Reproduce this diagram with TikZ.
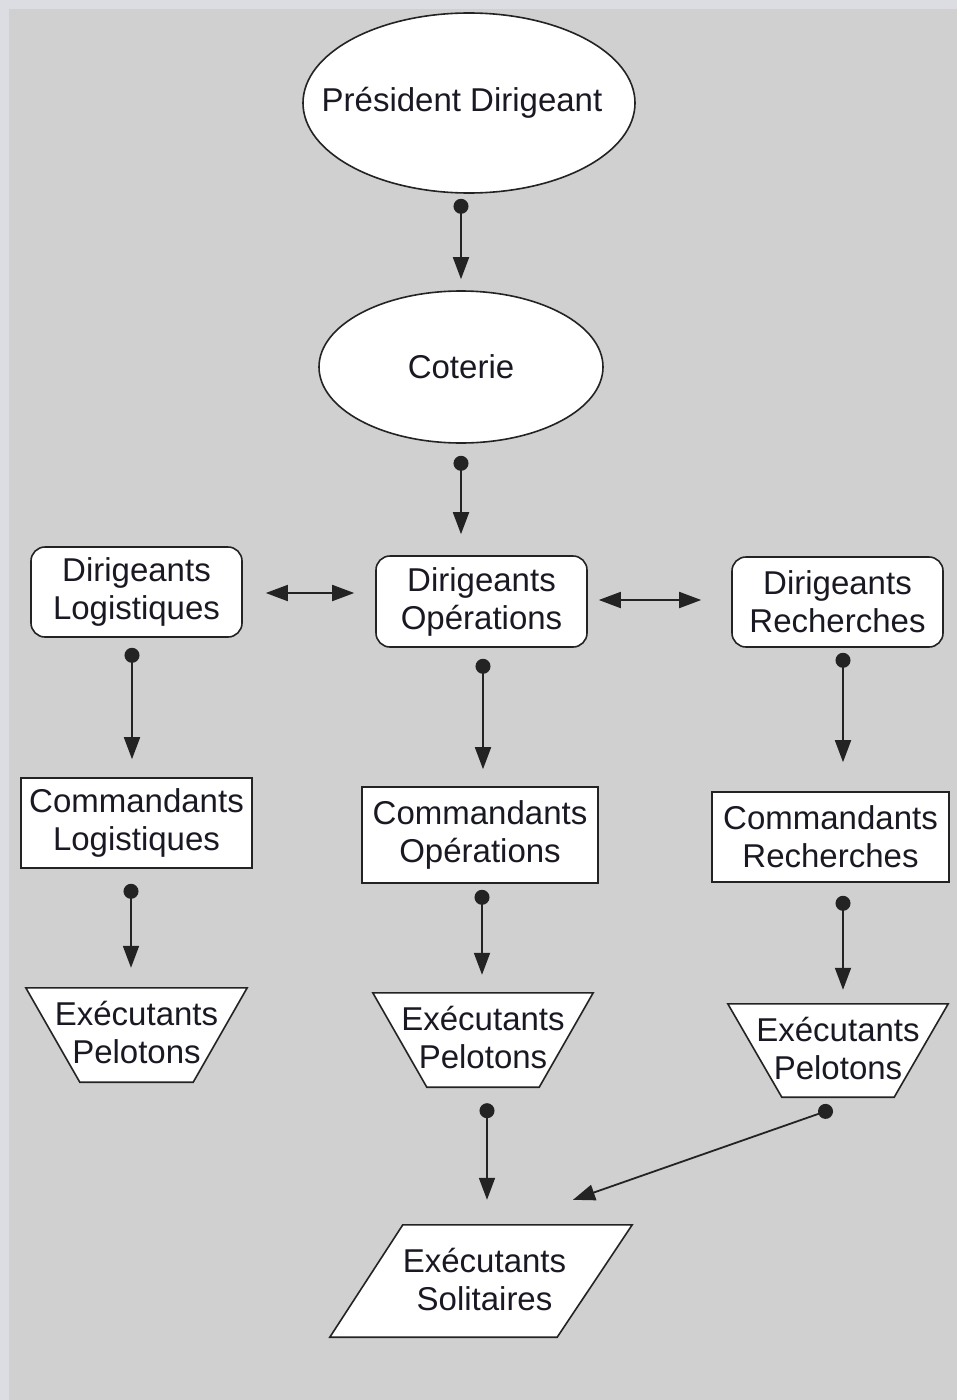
\documentclass[tikz,border=0pt]{standalone}
\usepackage{fontspec}
\setmainfont{Liberation Sans}
\usetikzlibrary{arrows.meta,shapes.geometric}
\definecolor{outerbg}{RGB}{219,221,227}
\definecolor{panel}{RGB}{208,208,208}
\definecolor{ink}{RGB}{25,25,35}
\definecolor{edge}{RGB}{35,35,35}
\begin{document}
\begin{tikzpicture}[x=1pt,y=-1pt,
  font=\fontsize{33pt}{38pt}\selectfont, text=ink,
  ell/.style={ellipse, draw=edge, line width=1.6pt, fill=white, inner sep=0pt},
  rbox/.style={rectangle, rounded corners=14pt, draw=edge, line width=1.6pt, fill=white, inner sep=0pt, minimum width=211pt, minimum height=90pt, align=center},
  sbox/.style={rectangle, draw=edge, line width=1.6pt, fill=white, inner sep=0pt, align=center},
  frame/.style={rectangle, inner sep=0pt},
  shp/.style={draw=edge, line width=1.6pt, fill=white, line join=miter},
  lbl/.style={inner sep=0pt, align=center},
  conn/.style={line width=1.8pt, draw=edge, {Circle[length=15pt]}-{Triangle[length=22pt,width=16pt]}},
  dbl/.style={line width=1.8pt, draw=edge, {Triangle[length=22pt,width=16pt]}-{Triangle[length=22pt,width=16pt]}}
]
\fill[outerbg] (0,0) rectangle (957,1400);
\fill[panel] (9,9) rectangle (957,1400);
\useasboundingbox (0,0) rectangle (957,1400);

\node[ell, minimum width=332pt, minimum height=180pt] (pd) at (469,103) {};
\node[lbl] (pdt) at ([xshift=-7pt]pd.center) {Président Dirigeant};
\node[ell, minimum width=284pt, minimum height=152pt] (cot) at (461,367) {Coterie};

\node[rbox] (dl) at (136.5,592) {Dirigeants\\Logistiques};
\node[rbox, minimum height=91pt] (do) at (481.5,601.5) {Dirigeants\\Opérations};
\node[rbox] (dr) at (837.5,602) {Dirigeants\\Recherches};

\node[sbox, minimum width=231pt, minimum height=90pt] (cl) at (136.5,823) {Commandants\\Logistiques};
\node[sbox, minimum width=236pt, minimum height=96pt] (co) at (480,835) {Commandants\\Opérations};
\node[sbox, minimum width=237pt, minimum height=90pt] (cr) at (830.5,837) {Commandants\\Recherches};

\node[frame, minimum width=221pt, minimum height=94pt] (el) at (136.5,1035) {};
\path[shp] (el.north west) -- (el.north east) -- ([xshift=-54pt]el.south east) -- ([xshift=54pt]el.south west) -- cycle;
\node[lbl] (elt) at ([yshift=3pt]el.center) {Exécutants\\Pelotons};

\node[frame, minimum width=220pt, minimum height=94pt] (eo) at (483,1040) {};
\path[shp] (eo.north west) -- (eo.north east) -- ([xshift=-54pt]eo.south east) -- ([xshift=54pt]eo.south west) -- cycle;
\node[lbl] (eot) at ([yshift=3pt]eo.center) {Exécutants\\Pelotons};

\node[frame, minimum width=220pt, minimum height=93pt] (er) at (838,1050.5) {};
\path[shp] (er.north west) -- (er.north east) -- ([xshift=-54pt]er.south east) -- ([xshift=54pt]er.south west) -- cycle;
\node[lbl] (ert) at ([yshift=2.5pt]er.center) {Exécutants\\Pelotons};

\node[frame, minimum width=302pt, minimum height=112pt] (es) at (481,1281) {};
\path[shp] ([xshift=73pt]es.north west) -- (es.north east) -- ([xshift=-75pt]es.south east) -- (es.south west) -- cycle;
\node[lbl] (est) at ([xshift=3.5pt,yshift=2pt]es.center) {Exécutants\\Solitaires};

\draw[conn, shorten <=5pt, shorten >=11pt] (pd.south -| cot.north) -- (cot.north);
\draw[conn, shorten <=12pt, shorten >=21pt] (cot.south) -- (cot.south |- do.north);
\draw[conn, shorten <=10pt, shorten >=18pt] ([xshift=-4.5pt]dl.south) -- ([xshift=-4.5pt]dl.south |- cl.north);
\draw[conn, shorten <=11pt, shorten >=17pt] ([xshift=1.5pt]do.south) -- ([xshift=1.5pt]do.south |- co.north);
\draw[conn, shorten <=5pt, shorten >=29pt] ([xshift=5.5pt]dr.south) -- ([xshift=5.5pt]dr.south |- cr.north);
\draw[conn, shorten <=15pt, shorten >=20pt] ([xshift=-5.5pt]cl.south) -- ([xshift=-5.5pt]cl.south |- el.north);
\draw[conn, shorten <=6pt, shorten >=18pt] ([xshift=2pt]co.south) -- ([xshift=2pt]co.south |- eo.north);
\draw[conn, shorten <=13pt, shorten >=14pt] ([xshift=12.5pt]cr.south) -- ([xshift=12.5pt]cr.south |- er.north);
\draw[conn, shorten <=16pt, shorten >=25pt] ([xshift=4pt]eo.south) -- ([xshift=4pt]eo.south |- es.north);
\draw[conn] ([shift={(-5.4pt,-11.7pt)}]er.south) -- ([shift={(92pt,25pt)}]es.north);
\draw[dbl, shorten <=23pt, shorten >=21pt] ([yshift=-1pt]dl.east) -- ([yshift=-1pt]dl.east -| do.west);
\draw[dbl, shorten <=11pt, shorten >=30pt] ([yshift=1.5pt]do.east) -- ([yshift=1.5pt]do.east -| dr.west);
\end{tikzpicture}
\end{document}
